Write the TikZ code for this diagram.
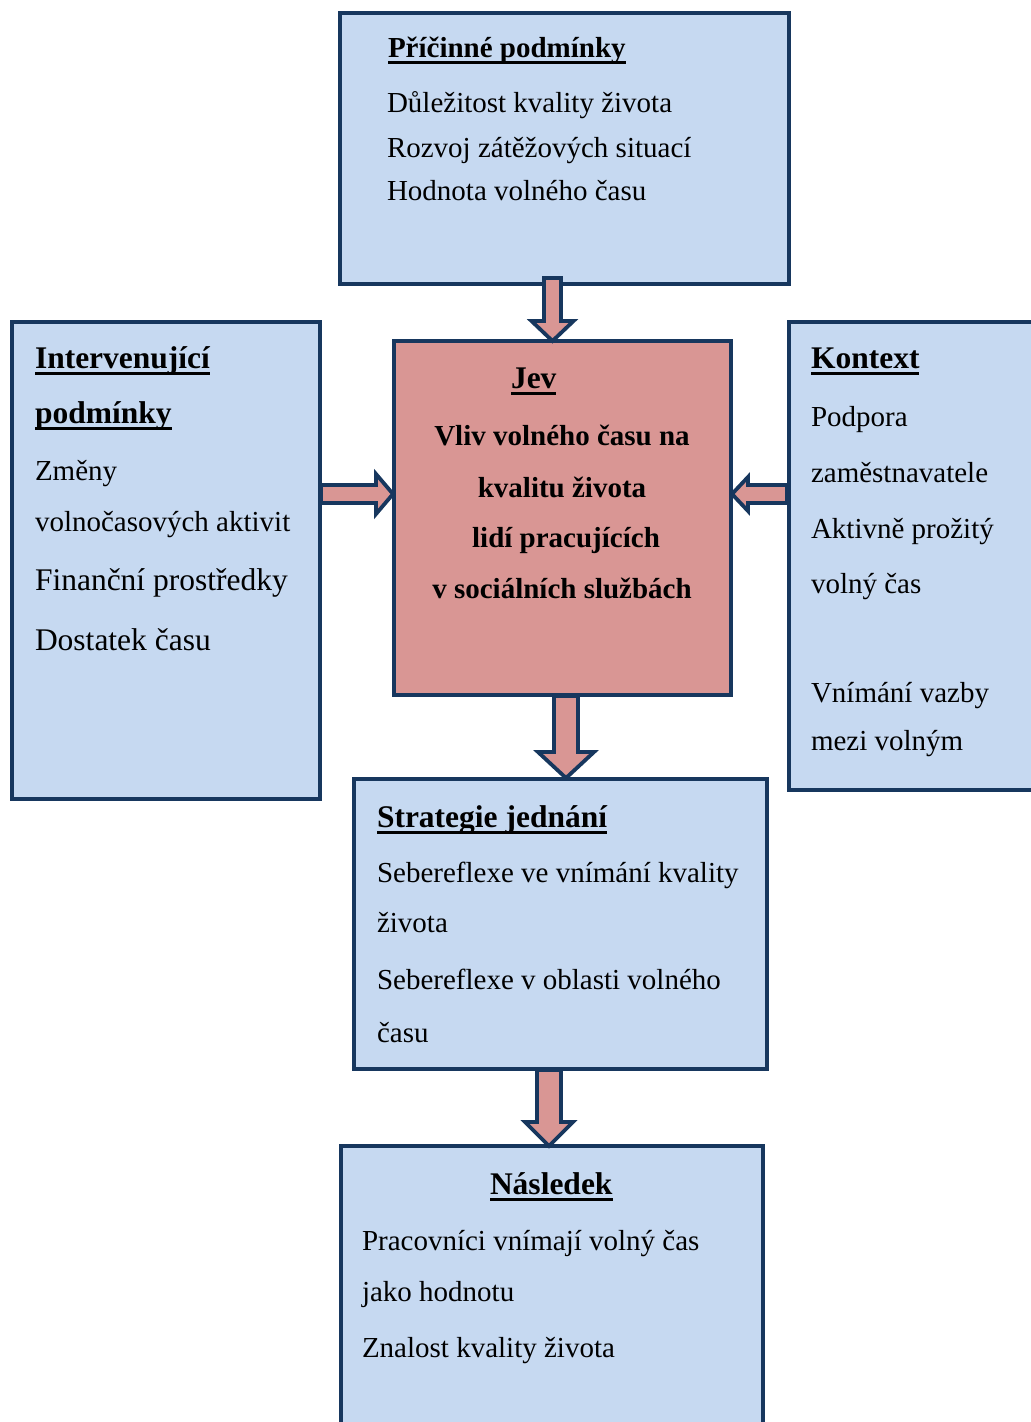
\documentclass[tikz,border=0pt]{standalone}
\usepackage{fontspec}
\setmainfont{Liberation Serif}
\usetikzlibrary{calc}
\definecolor{boxblue}{HTML}{C6D9F1}
\definecolor{navy}{HTML}{17375E}
\definecolor{rosepink}{HTML}{D99694}
\newcommand\barrowdown[5]{%
  \path let \p1=(#1), \p2=(#2) in [blockarrow]
    ({\x1-#3pt},\y1) -- ({\x1-#3pt},{\y2+#5pt}) -- ({\x1-#4pt},{\y2+#5pt}) -- (\x1,\y2)
    -- ({\x1+#4pt},{\y2+#5pt}) -- ({\x1+#3pt},{\y2+#5pt}) -- ({\x1+#3pt},\y1) -- cycle;}
\newcommand\barrowhor[5]{%
  \path let \p1=(#1), \p2=(#2) in [blockarrow]
    (\x1,{\y1+#3pt}) -- ({\x2-(#5pt)},{\y1+#3pt}) -- ({\x2-(#5pt)},{\y1+#4pt}) -- (\x2,\y1)
    -- ({\x2-(#5pt)},{\y1-#4pt}) -- ({\x2-(#5pt)},{\y1-#3pt}) -- (\x1,{\y1-#3pt}) -- cycle;}
\begin{document}
\begin{tikzpicture}[x=1pt,y=-1pt,
  box/.style={draw=navy, fill=boxblue, line width=4pt, anchor=north west, inner sep=0, outer sep=0, rectangle},
  jevbox/.style={box, fill=rosepink},
  blockarrow/.style={draw=navy, fill=rosepink, line width=3.8pt, line join=miter},
  txt/.style={anchor=base west, inner sep=0, outer sep=0, font=\fontsize{29}{35}\selectfont},
  bigtxt/.style={txt, font=\fontsize{31.5}{38}\selectfont},
  hd/.style={anchor=base west, inner sep=0, outer sep=0, font=\bfseries\fontsize{31.5}{38}\selectfont},
  ctr/.style={anchor=base, inner sep=0, outer sep=0, font=\bfseries\fontsize{29}{35}\selectfont},
  ulstyle/.style={line width=3pt, black}]
\useasboundingbox (0,0) rectangle (1031,1422);
\clip (0,0) rectangle (1031,1422);

% boxes
\node[box, minimum width=449, minimum height=271] (top) at (340,13) {};
\node[box, minimum width=308, minimum height=477] (left) at (12,322) {};
\node[jevbox, minimum width=337, minimum height=354] (jev) at (394,341) {};
\node[box, minimum width=260, minimum height=468] (right) at (789,322) {};
\node[box, minimum width=413, minimum height=290] (strat) at (354,779) {};
\node[box, minimum width=422, minimum height=300] (nasl) at (341,1146) {};

% arrow end points
\coordinate (a1s) at (552.5,278);  \coordinate (a1e) at (552.5,341);
\coordinate (a2s) at (321,494);    \coordinate (a2e) at (393,494);
\coordinate (a3s) at (787,494);    \coordinate (a3e) at (732,494);
\coordinate (a4s) at (566,696);    \coordinate (a4e) at (566,778);
\coordinate (a5s) at (549,1070);   \coordinate (a5e) at (549,1146);

\barrowdown{a1s}{a1e}{8.5}{21}{20}
\barrowhor{a2s}{a2e}{9}{20}{17}
\barrowhor{a3s}{a3e}{9}{17}{-16}
\barrowdown{a4s}{a4e}{12}{28}{26}
\barrowdown{a5s}{a5e}{12}{24}{24}

% top box
\node[hd, font=\bfseries\fontsize{29}{35}\selectfont] (h1) at (388,57) {Příčinné podmínky};
\draw[ulstyle] ([yshift=-5]h1.base west) -- ([yshift=-5]h1.base east);
\node[txt] (t1) at (387,112) {Důležitost kvality života};
\node[txt] (t2) at (387,157) {Rozvoj zátěžových situací};
\node[txt] (t3) at (387,200) {Hodnota volného času};

% left box
\node[hd] (h2a) at (35,368) {Intervenující};
\draw[ulstyle] ([yshift=-5]h2a.base west) -- ([yshift=-5]h2a.base east);
\node[hd] (h2b) at (35,423) {podmínky};
\draw[ulstyle] ([yshift=-5]h2b.base west) -- ([yshift=-5]h2b.base east);
\node[txt] (l1) at (35,480) {Změny};
\node[txt] (l2) at (35,531) {volnočasových aktivit};
\node[bigtxt] (l3) at (35,590) {Finanční prostředky};
\node[bigtxt] (l4) at (35,650) {Dostatek času};

% center box
\node[hd] (h3) at (511,388) {Jev};
\draw[ulstyle] ([yshift=-5]h3.base west) -- ([yshift=-5]h3.base east);
\node[ctr] (c1) at (562,445) {Vliv volného času na};
\node[ctr] (c2) at (562,497) {kvalitu života};
\node[ctr] (c3) at (566,547) {lidí pracujících};
\node[ctr] (c4) at (562,598) {v sociálních službách};

% right box
\node[hd] (h4) at (811,368) {Kontext};
\draw[ulstyle] ([yshift=-5]h4.base west) -- ([yshift=-5]h4.base east);
\node[txt] (r1) at (811,426) {Podpora};
\node[txt] (r2) at (811,482) {zaměstnavatele};
\node[txt] (r3) at (811,538) {Aktivně prožitý};
\node[txt] (r4) at (811,593) {volný čas};
\node[txt] (r5) at (811,702) {Vnímání vazby};
\node[txt] (r6) at (811,750) {mezi volným};

% strategie box
\node[hd] (h5) at (377,827) {Strategie jednání};
\draw[ulstyle] ([yshift=-5]h5.base west) -- ([yshift=-5]h5.base east);
\node[txt] (s1) at (377,882) {Sebereflexe ve vnímání kvality};
\node[txt] (s2) at (377,932) {života};
\node[txt] (s3) at (377,989) {Sebereflexe v oblasti volného};
\node[txt] (s4) at (377,1042) {času};

% nasledek box
\node[hd] (h6) at (490,1194) {Následek};
\draw[ulstyle] ([yshift=-5]h6.base west) -- ([yshift=-5]h6.base east);
\node[txt] (n1) at (362,1250) {Pracovníci vnímají volný čas};
\node[txt] (n2) at (362,1301) {jako hodnotu};
\node[txt] (n3) at (362,1357) {Znalost kvality života};
\end{tikzpicture}
\end{document}
